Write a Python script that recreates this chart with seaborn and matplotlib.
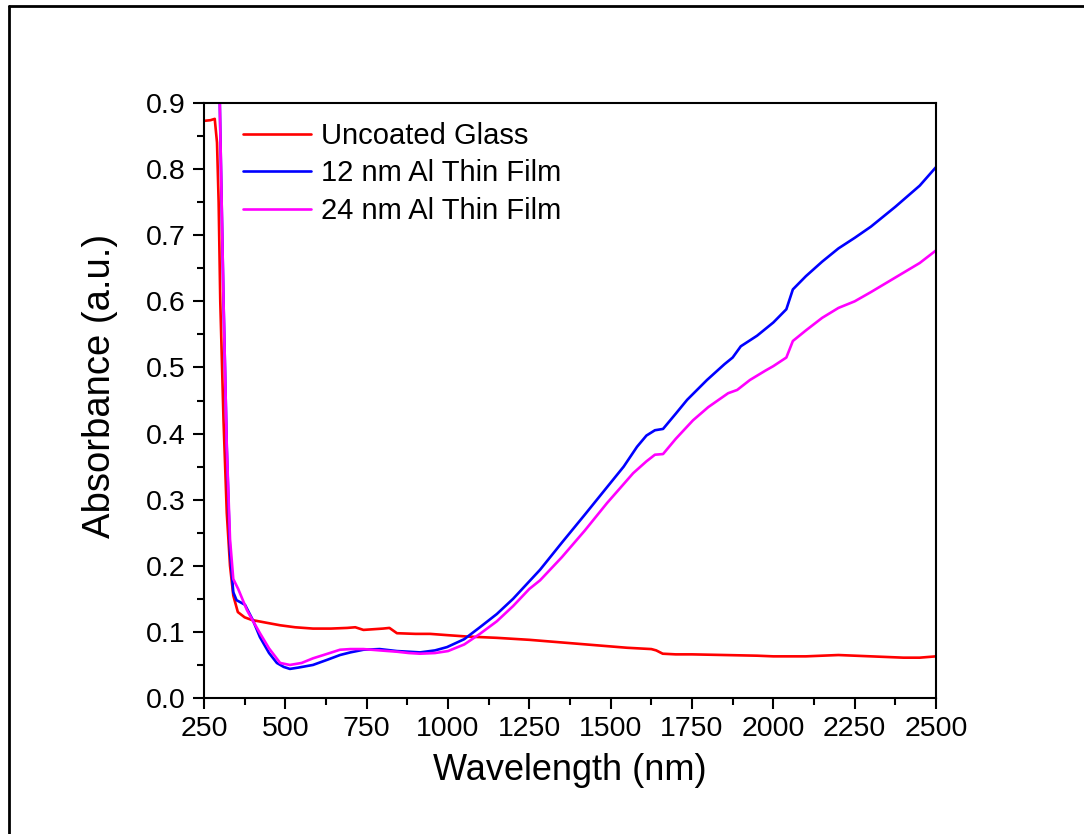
import numpy as np
import pandas as pd
import matplotlib
matplotlib.use("Agg")
import matplotlib.pyplot as plt
from matplotlib.lines import Line2D
from matplotlib.ticker import MultipleLocator
import seaborn as sns

# Absorbance spectra (wavelength in nm, absorbance in a.u.)
glass_wl = [250, 270, 283, 290, 295, 300, 310, 320, 330, 340, 354, 375, 397, 440, 484, 530,
            585, 640, 690, 715, 740, 770, 800, 820, 843, 900, 945, 1000, 1058, 1150, 1250,
            1350, 1450, 1550, 1625, 1640, 1660, 1700, 1750, 1850, 1950, 2000, 2100, 2150,
            2200, 2300, 2400, 2450, 2500]
glass_abs = [0.873, 0.874, 0.876, 0.84, 0.75, 0.60, 0.42, 0.28, 0.20, 0.155, 0.130, 0.122,
             0.118, 0.114, 0.110, 0.107, 0.105, 0.105, 0.106, 0.107, 0.103, 0.104, 0.105,
             0.106, 0.098, 0.097, 0.097, 0.095, 0.093, 0.091, 0.088, 0.084, 0.080, 0.076,
             0.074, 0.072, 0.067, 0.066, 0.066, 0.065, 0.064, 0.063, 0.063, 0.064, 0.065,
             0.063, 0.061, 0.061, 0.063]

al12_wl = [295, 300, 310, 320, 330, 340, 350, 376, 400, 422, 450, 474, 495, 514, 540, 585,
           630, 668, 700, 740, 790, 843, 880, 914, 960, 997, 1050, 1098, 1150, 1200, 1283,
           1350, 1420, 1489, 1540, 1581, 1610, 1636, 1661, 1700, 1735, 1796, 1850, 1875,
           1900, 1950, 2000, 2040, 2060, 2100, 2150, 2200, 2250, 2300, 2375, 2450, 2500]
al12_abs = [1.00, 0.86, 0.60, 0.38, 0.22, 0.16, 0.148, 0.141, 0.118, 0.092, 0.068, 0.053,
            0.047, 0.044, 0.046, 0.050, 0.058, 0.065, 0.069, 0.073, 0.074, 0.071, 0.070,
            0.069, 0.072, 0.077, 0.089, 0.107, 0.127, 0.150, 0.194, 0.235, 0.277, 0.319,
            0.350, 0.380, 0.397, 0.405, 0.407, 0.430, 0.451, 0.481, 0.505, 0.515, 0.532,
            0.548, 0.568, 0.588, 0.618, 0.638, 0.660, 0.680, 0.696, 0.713, 0.743, 0.775,
            0.803]

al24_wl = [295, 300, 310, 320, 330, 340, 355, 382, 400, 422, 450, 484, 514, 550, 585, 630,
           668, 700, 740, 790, 843, 880, 914, 960, 1000, 1050, 1098, 1150, 1200, 1250,
           1283, 1350, 1420, 1489, 1530, 1569, 1610, 1636, 1661, 1700, 1753, 1800, 1861,
           1889, 1928, 1975, 2000, 2040, 2060, 2100, 2150, 2200, 2250, 2300, 2375, 2450,
           2500]
al24_abs = [1.00, 0.86, 0.60, 0.38, 0.24, 0.18, 0.165, 0.133, 0.117, 0.098, 0.075, 0.053,
            0.050, 0.053, 0.060, 0.067, 0.073, 0.074, 0.074, 0.072, 0.070, 0.068, 0.067,
            0.068, 0.071, 0.081, 0.097, 0.116, 0.139, 0.165, 0.178, 0.213, 0.253, 0.295,
            0.318, 0.340, 0.358, 0.368, 0.369, 0.392, 0.420, 0.440, 0.461, 0.466, 0.481,
            0.495, 0.502, 0.515, 0.540, 0.556, 0.575, 0.590, 0.600, 0.614, 0.636, 0.658,
            0.677]

series_names = ["Uncoated Glass", "12 nm Al Thin Film", "24 nm Al Thin Film"]
series_colors = ["#ff0000", "#0000ff", "#ff00ff"]

x_ticks = [250, 500, 750, 1000, 1250, 1500, 1750, 2000, 2250, 2500]
y_ticks = [0.0, 0.1, 0.2, 0.3, 0.4, 0.5, 0.6, 0.7, 0.8, 0.9]

frames = []
for name, wl, ab in zip(series_names,
                        [glass_wl, al12_wl, al24_wl],
                        [glass_abs, al12_abs, al24_abs]):
    frames.append(pd.DataFrame({"Wavelength": wl, "Absorbance": ab, "Sample": name}))
df = pd.concat(frames, ignore_index=True)

sns.set_theme(style="ticks")
plt.rcParams["font.family"] = ["Liberation Sans", "DejaVu Sans"]
plt.rcParams["text.color"] = "black"
plt.rcParams["axes.labelcolor"] = "black"

fig = plt.figure(figsize=(10.84, 8.34), dpi=100)
ax = fig.add_axes([204 / 1084, 1 - 698 / 834, 732 / 1084, 595 / 834])

sns.lineplot(data=df, x="Wavelength", y="Absorbance", hue="Sample",
             hue_order=series_names, palette=series_colors, sort=False,
             estimator=None, linewidth=1.9, ax=ax)

ax.set_xlim(250, 2500)
ax.set_ylim(0.0, 0.9)
ax.set_xticks(x_ticks)
ax.set_yticks(y_ticks)
ax.set_xticklabels([str(t) for t in x_ticks])
ax.set_yticklabels([f"{t:.1f}" for t in y_ticks])
ax.xaxis.set_minor_locator(MultipleLocator(125))
ax.yaxis.set_minor_locator(MultipleLocator(0.05))
ax.tick_params(which="major", direction="out", length=8, width=1.5, labelsize=20.5,
               colors="black", labelcolor="black", pad=5, top=False, right=False)
ax.tick_params(which="minor", direction="out", length=5, width=1.5, colors="black",
               top=False, right=False)
for s in ax.spines.values():
    s.set_visible(True)
    s.set_linewidth(1.5)
    s.set_color("black")

ax.set_xlabel("Wavelength (nm)", fontsize=26, labelpad=8, color="black")
ax.set_ylabel("Absorbance (a.u.)", fontsize=27.5, color="black")
ax.yaxis.set_label_coords(-0.118, 0.525)

leg = ax.legend(loc="upper left", frameon=False, fontsize=21,
                bbox_to_anchor=(0.040, 0.985), handlelength=2.3, handletextpad=0.35,
                labelspacing=0.32, borderaxespad=0.0, borderpad=0.35)
for line in leg.get_lines():
    line.set_linewidth(1.9)
for t in leg.get_texts():
    t.set_color("black")

# Border lines along the top and left of the figure
fig.add_artist(Line2D([9 / 1084, 9 / 1084], [0, 1 - 6 / 834], transform=fig.transFigure,
                      color="black", linewidth=2))
fig.add_artist(Line2D([9 / 1084, 1], [1 - 6 / 834, 1 - 6 / 834], transform=fig.transFigure,
                      color="black", linewidth=2))

fig.savefig("out.png", dpi=100)
